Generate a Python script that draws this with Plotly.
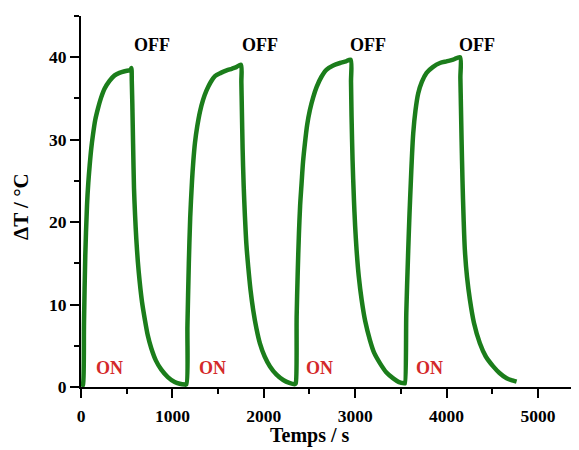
import plotly.graph_objects as go

# Time (s) and temperature rise (°C), four ON/OFF cycles
cycle1_t = [10, 22, 33, 47, 66, 80, 95, 112, 131, 156, 186, 220, 259, 310, 368, 420, 478, 520, 540, 551,
            556, 562, 570, 580, 592, 605, 622, 642, 668, 697, 730, 769, 820, 879, 950, 1025, 1080, 1134]
cycle1_y = [0, 0.3, 7.9, 16.0, 22.1, 24.8, 26.9, 28.9, 30.6, 32.4, 33.8, 35.1, 36.2, 37.1, 37.8, 38.1, 38.3, 38.4, 38.4, 38.7,
            37.0, 34.2, 29.5, 24.1, 20.8, 18.0, 15.2, 12.8, 10.3, 8.3, 6.3, 4.7, 3.2, 2.1, 1.2, 0.6, 0.4, 0.3]

cycle2_t = [1152, 1165, 1180, 1195, 1215, 1230, 1247, 1272, 1302, 1335, 1375, 1420, 1466, 1530, 1594, 1650, 1700, 1750,
            1755, 1760, 1769, 1780, 1794, 1810, 1830, 1855, 1885, 1920, 1958, 2010, 2068, 2140, 2213, 2280, 2341]
cycle2_y = [0.3, 7.5, 15.0, 20.5, 25.0, 27.5, 29.6, 31.6, 33.4, 34.8, 36.0, 37.0, 37.7, 38.1, 38.4, 38.6, 38.8, 39.1,
            37.0, 34.0, 28.8, 24.5, 20.7, 17.3, 14.6, 11.8, 9.3, 7.1, 5.3, 3.7, 2.5, 1.5, 0.85, 0.5, 0.35]

cycle3_t = [2350, 2360, 2372, 2385, 2398, 2414, 2430, 2451, 2475, 2505, 2540, 2579, 2630, 2688, 2760, 2834, 2900, 2950,
            2955, 2961, 2972, 2987, 3000, 3016, 3040, 3071, 3110, 3162, 3210, 3271, 3340, 3417, 3480, 3540]
cycle3_y = [0.45, 8.5, 14.0, 18.6, 22.0, 24.7, 27.3, 29.6, 31.8, 33.6, 35.1, 36.4, 37.6, 38.5, 39.0, 39.3, 39.5, 39.7,
            37.0, 32.8, 27.5, 22.7, 19.5, 16.6, 13.4, 10.6, 8.0, 5.7, 4.1, 2.9, 1.8, 1.05, 0.6, 0.45]

cycle4_t = [3545, 3560, 3581, 3595, 3610, 3622, 3636, 3660, 3690, 3730, 3782, 3850, 3928, 4000, 4073, 4147,
            4152, 4158, 4165, 4175, 4187, 4201, 4225, 4256, 4300, 4365, 4430, 4511, 4580, 4658, 4720, 4767]
cycle4_y = [0.45, 9.0, 16.6, 21.0, 25.0, 28.0, 30.8, 33.5, 35.6, 37.0, 38.1, 38.8, 39.3, 39.5, 39.7, 40.0,
            37.5, 34.0, 30.0, 25.0, 20.5, 16.6, 13.3, 10.6, 7.8, 5.3, 3.7, 2.5, 1.7, 1.05, 0.8, 0.65]

off_x = [777, 1958, 3140, 4333]
off_y = [41.5, 41.5, 41.5, 41.5]
on_x = [308, 1444, 2615, 3818]
on_y = [2.3, 2.3, 2.3, 2.3]

x_ticks = [0, 1000, 2000, 3000, 4000, 5000]
y_ticks = [0, 10, 20, 30, 40]

t_all = cycle1_t + cycle2_t + cycle3_t + cycle4_t
y_all = cycle1_y + cycle2_y + cycle3_y + cycle4_y

FONT = "Liberation Serif, Times New Roman, serif"
GREEN = "#1b7d1b"
RED = "#d42a2a"

fig = go.Figure()
fig.add_trace(go.Scatter(x=t_all, y=y_all, mode="lines",
                         line=dict(color=GREEN, width=4.5, shape="spline", smoothing=0.8),
                         showlegend=False, hoverinfo="skip"))

for x, y in zip(off_x, off_y):
    fig.add_annotation(x=x, y=y, text="OFF", showarrow=False,
                       font=dict(family=FONT, size=18, color="black", weight="bold"))
for x, y in zip(on_x, on_y):
    fig.add_annotation(x=x, y=y, text="ON", showarrow=False,
                       font=dict(family=FONT, size=18, color=RED, weight="bold"))

fig.add_annotation(xref="paper", yref="paper", x=0.46, y=-0.132, text="Temps / s",
                   showarrow=False, xanchor="center", yanchor="middle",
                   font=dict(family=FONT, size=20, color="black", weight="bold"))
fig.add_annotation(xref="paper", yref="paper", x=-0.1205, y=0.488, text="ΔT / °C",
                   showarrow=False, xanchor="center", yanchor="middle", textangle=-90,
                   font=dict(family=FONT, size=21, color="black", weight="bold"))

axis_common = dict(showline=True, linecolor="black", linewidth=2, showgrid=False,
                   zeroline=False, ticks="outside", ticklen=9, tickwidth=2, tickcolor="black",
                   tickfont=dict(family=FONT, size=17.5, color="black", weight="bold"))

fig.update_xaxes(range=[0, 5450], tickvals=x_ticks, ticktext=[str(v) for v in x_ticks],
                 ticklabelstandoff=3,
                 minor=dict(ticks="outside", ticklen=5, tickwidth=2, tickcolor="black", dtick=500, tick0=0),
                 **axis_common)
fig.update_yaxes(range=[0, 45], tickvals=y_ticks, ticktext=[str(v) for v in y_ticks],
                 minor=dict(ticks="outside", ticklen=5, tickwidth=2, tickcolor="black", dtick=5, tick0=0),
                 **axis_common)

fig.update_layout(width=571, height=442, margin=dict(l=73, r=0, t=8, b=63),
                  plot_bgcolor="white", paper_bgcolor="white")

fig.write_html("out.html")
